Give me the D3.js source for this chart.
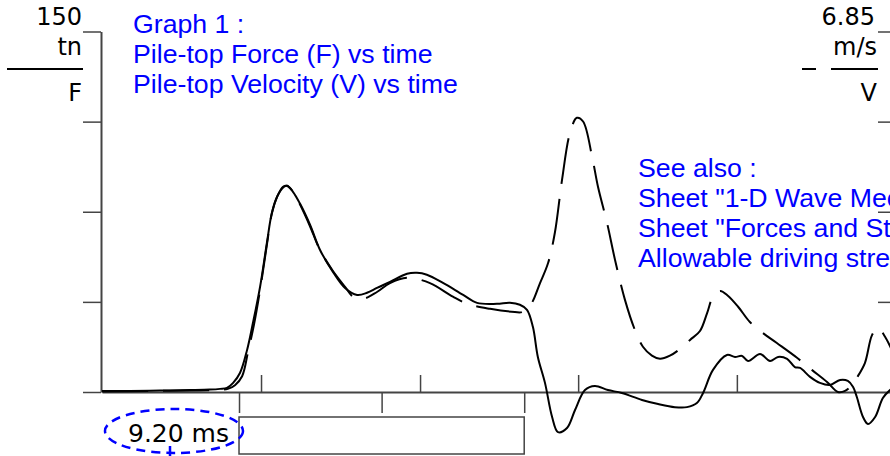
<!DOCTYPE html>
<html><head><meta charset="utf-8">
<script src="https://cdn.jsdelivr.net/npm/d3@7"></script>
<style>html,body{margin:0;padding:0;background:#fff;overflow:hidden}</style>
</head><body>
<svg id="c" width="890" height="456"></svg>
<script>
// ---- data (time in ms, force in tn, velocity in m/s) ----
const timeF = [0,0.90,1.87,2.84,3.48,3.81,4.03,4.23,4.45,4.68,4.87,5.10,5.32,5.48,5.65,5.84,5.97,6.16,6.39,6.71,7.03,7.45,7.84,8.23,8.55,8.87,9.29,9.84,10.16,10.48,11.00,11.65,12.10,12.74,13.16,13.48,13.71,13.90,14.06,14.29,14.52,14.71,15.00,15.26,15.58,15.90,16.32,16.77,17.42,17.94,18.48,18.87,19.19,19.39,19.71,20.16,20.42,20.65,20.84,21.23,21.55,21.81,22.10,22.35,22.52,22.84,23.16,23.48,23.81,24.06,24.23,24.35,24.55,24.71,24.94,25.19,25.42,25.65];
const forceF = [0.4,0.4,0.6,0.8,1.0,1.3,1.7,3.8,7.9,17.5,28.8,43.8,62.1,74.6,81.3,85.4,85.8,83.3,78.3,69.6,59.2,50.0,43.3,40.4,41.3,43.3,45.8,49.2,49.6,48.8,45.4,40.4,37.1,36.7,37.1,36.3,34.2,27.1,14.6,3.8,-10.4,-16.7,-15.0,-7.5,0.8,2.5,0.8,-0.4,-3.3,-5.0,-6.3,-6.3,-4.6,-0.4,9.2,15.4,14.6,15.0,12.9,15.8,12.9,14.6,13.8,10.4,10.0,6.3,3.8,2.9,5.0,4.6,2.1,-2.1,-10.4,-13.3,-10.4,-2.5,0.8,2.9];
const timeV = [0,1.55,3.16,3.81,4.06,4.29,4.52,4.71,4.90,5.10,5.32,5.48,5.65,5.87,5.97,6.16,6.39,6.71,7.03,7.45,7.84,8.10,8.42,8.87,9.29,9.84,10.58,11.32,11.81,12.52,13.32,13.55,13.84,14.13,14.39,14.61,14.84,15.10,15.32,15.52,15.81,16.00,16.29,16.55,16.87,17.19,17.45,17.74,18.00,18.32,18.65,18.97,19.29,19.52,19.71,19.94,20.19,20.52,20.90,21.32,21.77,22.42,22.90,23.39,23.74,23.97,24.19,24.35,24.61,24.84,25.03,25.26,25.48,25.74];
const velocityV = [0.01,0.02,0.03,0.04,0.06,0.13,0.30,0.76,1.27,1.94,2.80,3.39,3.71,3.90,3.92,3.81,3.56,3.15,2.70,2.30,2.00,1.81,1.77,1.90,2.07,2.17,2.07,1.81,1.67,1.58,1.52,1.52,1.67,2.07,2.45,3.03,4.03,4.93,5.21,5.14,4.47,3.90,3.22,2.51,1.75,1.18,0.86,0.69,0.63,0.69,0.82,0.99,1.16,1.50,1.81,1.92,1.83,1.62,1.33,1.12,0.93,0.65,0.42,0.19,0.00,0.02,0.13,0.27,0.55,1.08,1.22,1.05,0.80,0.51];
const forceTicks = [0,37.5,75,112.5,150];
const velocityTicks = [0,1.7125,3.425,5.1375,6.85];
const timeTicks = [5.13,10.26,15.36,20.48];
const windowTicks = [4.42,9.02,13.62];
const forceMaxLabel = "150", forceUnit = "tn", forceName = "F";
const velMaxLabel = "6.85", velUnit = "m/s", velName = "V";
const windowLabel = "9.20 ms";
const titleLines = ["Graph 1 :","Pile-top Force (F) vs time","Pile-top Velocity (V) vs time"];
const noteLines = ["See also :","Sheet \"1-D Wave Mechanics\"","Sheet \"Forces and Stresses\"","Allowable driving stresses"];

// ---- drawing ----
const svg = d3.select("#c");
const x = d3.scaleLinear().domain([0, 25.42]).range([102, 890]);
const yF = d3.scaleLinear().domain([0, 150]).range([392, 31.5]);
const yV = d3.scaleLinear().domain([0, 6.85]).range([392, 31.5]);
const axisCol = "#444";
const labFont = "'DejaVu Sans', Verdana, sans-serif";

function styleAxis(g){
  g.selectAll("path.domain").attr("stroke", axisCol).attr("stroke-width", 2);
  g.selectAll(".tick line").attr("stroke", axisCol).attr("stroke-width", 1.5);
  g.selectAll(".tick text").remove();
}
// left F axis
svg.append("g").attr("transform","translate(101,0)")
  .call(d3.axisLeft(yF).tickValues(forceTicks).tickSize(18).tickSizeOuter(0)).call(styleAxis);
// right V axis (line off-canvas)
svg.append("g").attr("transform","translate(891,0)")
  .call(d3.axisLeft(yV).tickValues(velocityTicks.slice(1)).tickSize(13).tickSizeOuter(0)).call(styleAxis)
  .selectAll("path.domain").remove();
// time axis with upper ticks
svg.append("g").attr("transform","translate(0,392)")
  .call(d3.axisTop(x).tickValues(timeTicks).tickSize(17).tickSizeOuter(0)).call(styleAxis);
// window ticks below
svg.append("g").attr("transform","translate(0,392)")
  .call(d3.axisBottom(x).tickValues(windowTicks).tickSize(21).tickSizeOuter(0)).call(styleAxis)
  .selectAll("path.domain").remove();
// window rectangle
svg.append("rect").attr("x", x(windowTicks[0])).attr("y", 417)
  .attr("width", x(windowTicks[2]) - x(windowTicks[0])).attr("height", 37)
  .attr("fill","#fff").attr("stroke", axisCol).attr("stroke-width",1.5);

// curves
const lineF = d3.line().x((d,i)=>x(timeF[i])).y(d=>yF(d)).curve(d3.curveCatmullRom.alpha(0.5));
const lineV = d3.line().x((d,i)=>x(timeV[i])).y(d=>yV(d)).curve(d3.curveCatmullRom.alpha(0.5));
svg.append("path").attr("d", lineF(forceF)).attr("fill","none").attr("stroke","#000").attr("stroke-width",2);
svg.append("path").attr("d", lineV(velocityV)).attr("fill","none").attr("stroke","#000").attr("stroke-width",2)
  .attr("stroke-dasharray","46,15");

// axis labels
function lab(t, xx, yy, anchor, size){
  svg.append("text").attr("x",xx).attr("y",yy).attr("text-anchor",anchor||"end")
    .attr("font-family",labFont).attr("font-size",size||24).attr("fill","#000").text(t);
}
lab(forceMaxLabel, 82, yF(150)-6.5);
lab(forceUnit, 82, 55);
lab(forceName, 82, 101);
svg.append("line").attr("x1",7).attr("x2",83).attr("y1",69).attr("y2",69).attr("stroke","#000").attr("stroke-width",2);
lab(velMaxLabel, 875, yV(6.85)-6.5);
lab(velUnit, 877, 55);
lab(velName, 877, 101);
svg.append("line").attr("x1",831).attr("x2",878).attr("y1",69).attr("y2",69).attr("stroke","#000").attr("stroke-width",2);
svg.append("line").attr("x1",802).attr("x2",816).attr("y1",69).attr("y2",69).attr("stroke","#000").attr("stroke-width",2);

// window label with dashed ellipse
svg.append("ellipse").attr("cx",174).attr("cy",431).attr("rx",69).attr("ry",22)
  .attr("fill","none").attr("stroke","#0000ff").attr("stroke-width",2.5).attr("stroke-dasharray","9,6");
svg.append("line").attr("x1",170).attr("x2",170).attr("y1",446).attr("y2",456).attr("stroke","#0000ff").attr("stroke-width",2.5);
lab(windowLabel, 128, 442, "start", 25);

// blue notes
const blueFont = "'Liberation Sans', Arial, sans-serif";
titleLines.forEach((t,i)=>svg.append("text").attr("x",133).attr("y",33+i*30)
  .attr("font-family",blueFont).attr("font-size",26.7).attr("fill","#0000ff").text(t));
noteLines.forEach((t,i)=>svg.append("text").attr("x",638).attr("y",177+i*30)
  .attr("font-family",blueFont).attr("font-size",26.7).attr("fill","#0000ff").text(t));
</script>
</body></html>
